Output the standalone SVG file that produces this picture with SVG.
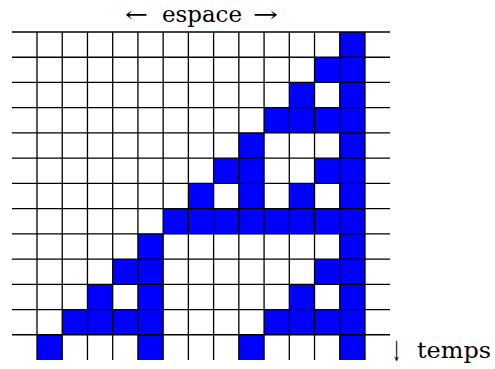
<svg xmlns="http://www.w3.org/2000/svg" width="495" height="369" viewBox="0 0 495 369">
<style>
.b{fill:#0000ff}
.g line{stroke:#000;stroke-width:1.3}
.t{font-family:"DejaVu Serif","Liberation Serif",serif;font-size:22px;fill:#000}
.big{font-size:28px}
</style>
<rect width="495" height="369" fill="#fff"/>
<g id="cells">
<rect class="b" x="339.76" y="32" width="25.23" height="25.23"/>
<rect class="b" x="314.53" y="57.23" width="50.46" height="25.23"/>
<rect class="b" x="289.3" y="82.46" width="25.23" height="25.23"/>
<rect class="b" x="339.76" y="82.46" width="25.23" height="25.23"/>
<rect class="b" x="264.07" y="107.69" width="100.92" height="25.23"/>
<rect class="b" x="238.84" y="132.92" width="25.23" height="25.23"/>
<rect class="b" x="339.76" y="132.92" width="25.23" height="25.23"/>
<rect class="b" x="213.61" y="158.15" width="50.46" height="25.23"/>
<rect class="b" x="314.53" y="158.15" width="50.46" height="25.23"/>
<rect class="b" x="188.38" y="183.38" width="25.23" height="25.23"/>
<rect class="b" x="238.84" y="183.38" width="25.23" height="25.23"/>
<rect class="b" x="289.3" y="183.38" width="25.23" height="25.23"/>
<rect class="b" x="339.76" y="183.38" width="25.23" height="25.23"/>
<rect class="b" x="163.15" y="208.61" width="201.84" height="25.23"/>
<rect class="b" x="137.92" y="233.84" width="25.23" height="25.23"/>
<rect class="b" x="339.76" y="233.84" width="25.23" height="25.23"/>
<rect class="b" x="112.69" y="259.07" width="50.46" height="25.23"/>
<rect class="b" x="314.53" y="259.07" width="50.46" height="25.23"/>
<rect class="b" x="87.46" y="284.3" width="25.23" height="25.23"/>
<rect class="b" x="137.92" y="284.3" width="25.23" height="25.23"/>
<rect class="b" x="289.3" y="284.3" width="25.23" height="25.23"/>
<rect class="b" x="339.76" y="284.3" width="25.23" height="25.23"/>
<rect class="b" x="62.23" y="309.53" width="100.92" height="25.23"/>
<rect class="b" x="264.07" y="309.53" width="100.92" height="25.23"/>
<rect class="b" x="37" y="334.76" width="25.23" height="25.24"/>
<rect class="b" x="137.92" y="334.76" width="25.23" height="25.24"/>
<rect class="b" x="238.84" y="334.76" width="25.23" height="25.24"/>
<rect class="b" x="339.76" y="334.76" width="25.23" height="25.24"/>
</g>
<g id="grid" class="g">
<line x1="12" y1="32" x2="390" y2="32"/>
<line x1="12" y1="57.23" x2="390" y2="57.23"/>
<line x1="12" y1="82.46" x2="390" y2="82.46"/>
<line x1="12" y1="107.69" x2="390" y2="107.69"/>
<line x1="12" y1="132.92" x2="390" y2="132.92"/>
<line x1="12" y1="158.15" x2="390" y2="158.15"/>
<line x1="12" y1="183.38" x2="390" y2="183.38"/>
<line x1="12" y1="208.61" x2="390" y2="208.61"/>
<line x1="12" y1="233.84" x2="390" y2="233.84"/>
<line x1="12" y1="259.07" x2="390" y2="259.07"/>
<line x1="12" y1="284.3" x2="390" y2="284.3"/>
<line x1="12" y1="309.53" x2="390" y2="309.53"/>
<line x1="12" y1="334.76" x2="390" y2="334.76"/>
<line x1="37" y1="32" x2="37" y2="360"/>
<line x1="62.23" y1="32" x2="62.23" y2="360"/>
<line x1="87.46" y1="32" x2="87.46" y2="360"/>
<line x1="112.69" y1="32" x2="112.69" y2="360"/>
<line x1="137.92" y1="32" x2="137.92" y2="360"/>
<line x1="163.15" y1="32" x2="163.15" y2="360"/>
<line x1="188.38" y1="32" x2="188.38" y2="360"/>
<line x1="213.61" y1="32" x2="213.61" y2="360"/>
<line x1="238.84" y1="32" x2="238.84" y2="360"/>
<line x1="264.07" y1="32" x2="264.07" y2="360"/>
<line x1="289.3" y1="32" x2="289.3" y2="360"/>
<line x1="314.53" y1="32" x2="314.53" y2="360"/>
<line x1="339.76" y1="32" x2="339.76" y2="360"/>
<line x1="364.99" y1="32" x2="364.99" y2="360"/>
</g>
<g id="labels">
<text class="t" x="125" y="22" textLength="23" lengthAdjust="spacingAndGlyphs">←</text>
<text class="t" x="162" y="22" textLength="80" lengthAdjust="spacingAndGlyphs">espace</text>
<text class="t" x="253" y="22" textLength="25" lengthAdjust="spacingAndGlyphs">→</text>
<text class="t big" x="391" y="361" textLength="11" lengthAdjust="spacingAndGlyphs">↓</text>
<text class="t" x="417" y="358" textLength="74" lengthAdjust="spacingAndGlyphs">temps</text>
</g>
</svg>
